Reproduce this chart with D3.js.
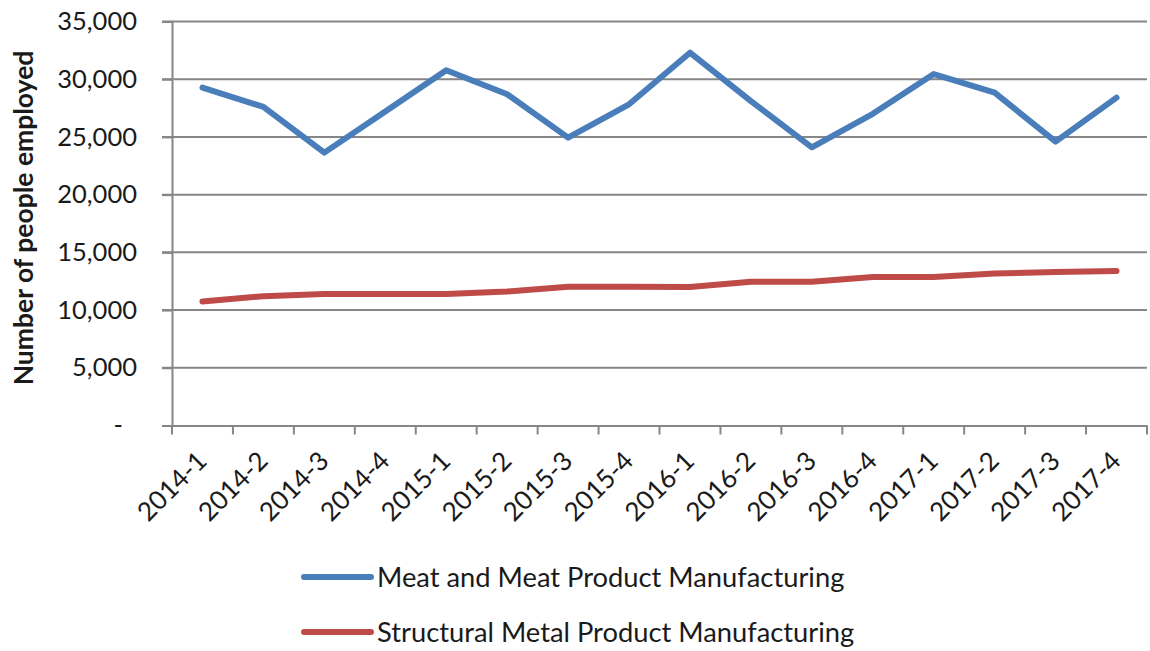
<!DOCTYPE html>
<html>
<head>
<meta charset="utf-8">
<script src="https://cdn.jsdelivr.net/npm/d3@7"></script>
<style>
  html, body { margin: 0; padding: 0; background: #fff; }
  svg { display: block; font-family: Lato, "Liberation Sans", sans-serif; }
</style>
</head>
<body>
<svg id="chart" width="1150" height="651"></svg>
<script>
const categories = ["2014-1","2014-2","2014-3","2014-4","2015-1","2015-2","2015-3","2015-4",
                    "2016-1","2016-2","2016-3","2016-4","2017-1","2017-2","2017-3","2017-4"];
const meatValues = [29270, 27600, 23640, 27200, 30780, 28700, 24940, 27830,
                    32300, 28100, 24100, 27000, 30450, 28840, 24590, 28400];
const metalValues = [10750, 11200, 11390, 11390, 11390, 11610, 12020, 12030,
                     12000, 12450, 12460, 12860, 12870, 13160, 13300, 13390];
const yTicks = [0, 5000, 10000, 15000, 20000, 25000, 30000, 35000];
const seriesNames = ["Meat and Meat Product Manufacturing", "Structural Metal Product Manufacturing"];
const seriesColors = ["#4A7EBB", "#BE4B48"];

const svg = d3.select("#chart");
const plotLeft = 172, plotRight = 1147, plotTop = 21.5, plotBottom = 425.5;

const x = d3.scaleBand().domain(categories).range([plotLeft, plotRight]).padding(0);
const y = d3.scaleLinear().domain([0, 35000]).range([plotBottom, plotTop]);

const gridColor = "#868686";
const textColor = "#1a1a1a";

// gridlines
svg.append("g")
  .selectAll("line")
  .data(yTicks.filter(d => d > 0))
  .join("line")
  .attr("x1", plotLeft - 10).attr("x2", plotRight)
  .attr("y1", d => y(d)).attr("y2", d => y(d))
  .attr("stroke", gridColor).attr("stroke-width", 2);

// y axis
const yAxis = d3.axisLeft(y).tickValues(yTicks).tickSize(10).tickPadding(25)
  .tickFormat(d => d === 0 ? "-" : d3.format(",")(d));
const gy = svg.append("g").attr("transform", `translate(${plotLeft},0)`).call(yAxis);
gy.select(".domain").attr("stroke", gridColor).attr("stroke-width", 2);
gy.selectAll(".tick line").attr("stroke", gridColor).attr("stroke-width", 2);
gy.selectAll(".tick text").attr("font-size", 25.5).attr("fill", textColor).attr("font-family", "Lato, sans-serif")
  .attr("dx", d => d === 0 ? -14 : 0);

// x axis
const xAxis = d3.axisBottom(x).tickSize(0).tickFormat(d => d);
const gx = svg.append("g").attr("transform", `translate(0,${plotBottom})`).call(xAxis);
gx.select(".domain").attr("stroke", gridColor).attr("stroke-width", 2);
gx.selectAll(".tick text")
  .attr("font-size", 26).attr("fill", textColor).attr("font-family", "Lato, sans-serif")
  .attr("text-anchor", "end")
  .attr("transform", "translate(6,37) rotate(-45)")
  .attr("dy", 0).attr("y", 0).attr("x", 0);
// boundary tick marks
const boundaries = categories.map(c => x(c)).concat([plotRight]);
svg.append("g").selectAll("line").data(boundaries).join("line")
  .attr("x1", d => d).attr("x2", d => d)
  .attr("y1", plotBottom).attr("y2", plotBottom + 9)
  .attr("stroke", gridColor).attr("stroke-width", 2);

// lines
const line = d3.line()
  .x((d, i) => x(categories[i]) + x.bandwidth() / 2)
  .y(d => y(d));
[meatValues, metalValues].forEach((vals, i) => {
  svg.append("path")
    .datum(vals)
    .attr("d", line)
    .attr("fill", "none")
    .attr("stroke", seriesColors[i])
    .attr("stroke-width", 6)
    .attr("stroke-linejoin", "round")
    .attr("stroke-linecap", "round");
});

// y axis title
svg.append("text")
  .attr("transform", "translate(33,218) rotate(-90)")
  .attr("text-anchor", "middle")
  .attr("font-size", 26.5).attr("font-weight", "bold").attr("fill", textColor)
  .text("Number of people employed");

// legend
const legendY = [577, 632];
seriesNames.forEach((name, i) => {
  svg.append("line")
    .attr("x1", 304).attr("x2", 371)
    .attr("y1", legendY[i]).attr("y2", legendY[i])
    .attr("stroke", seriesColors[i]).attr("stroke-width", 6)
    .attr("stroke-linecap", "round");
  svg.append("text")
    .attr("x", 377).attr("y", legendY[i])
    .attr("dy", "0.35em")
    .attr("font-size", 27.3).attr("fill", textColor)
    .text(name);
});
</script>
</body>
</html>
